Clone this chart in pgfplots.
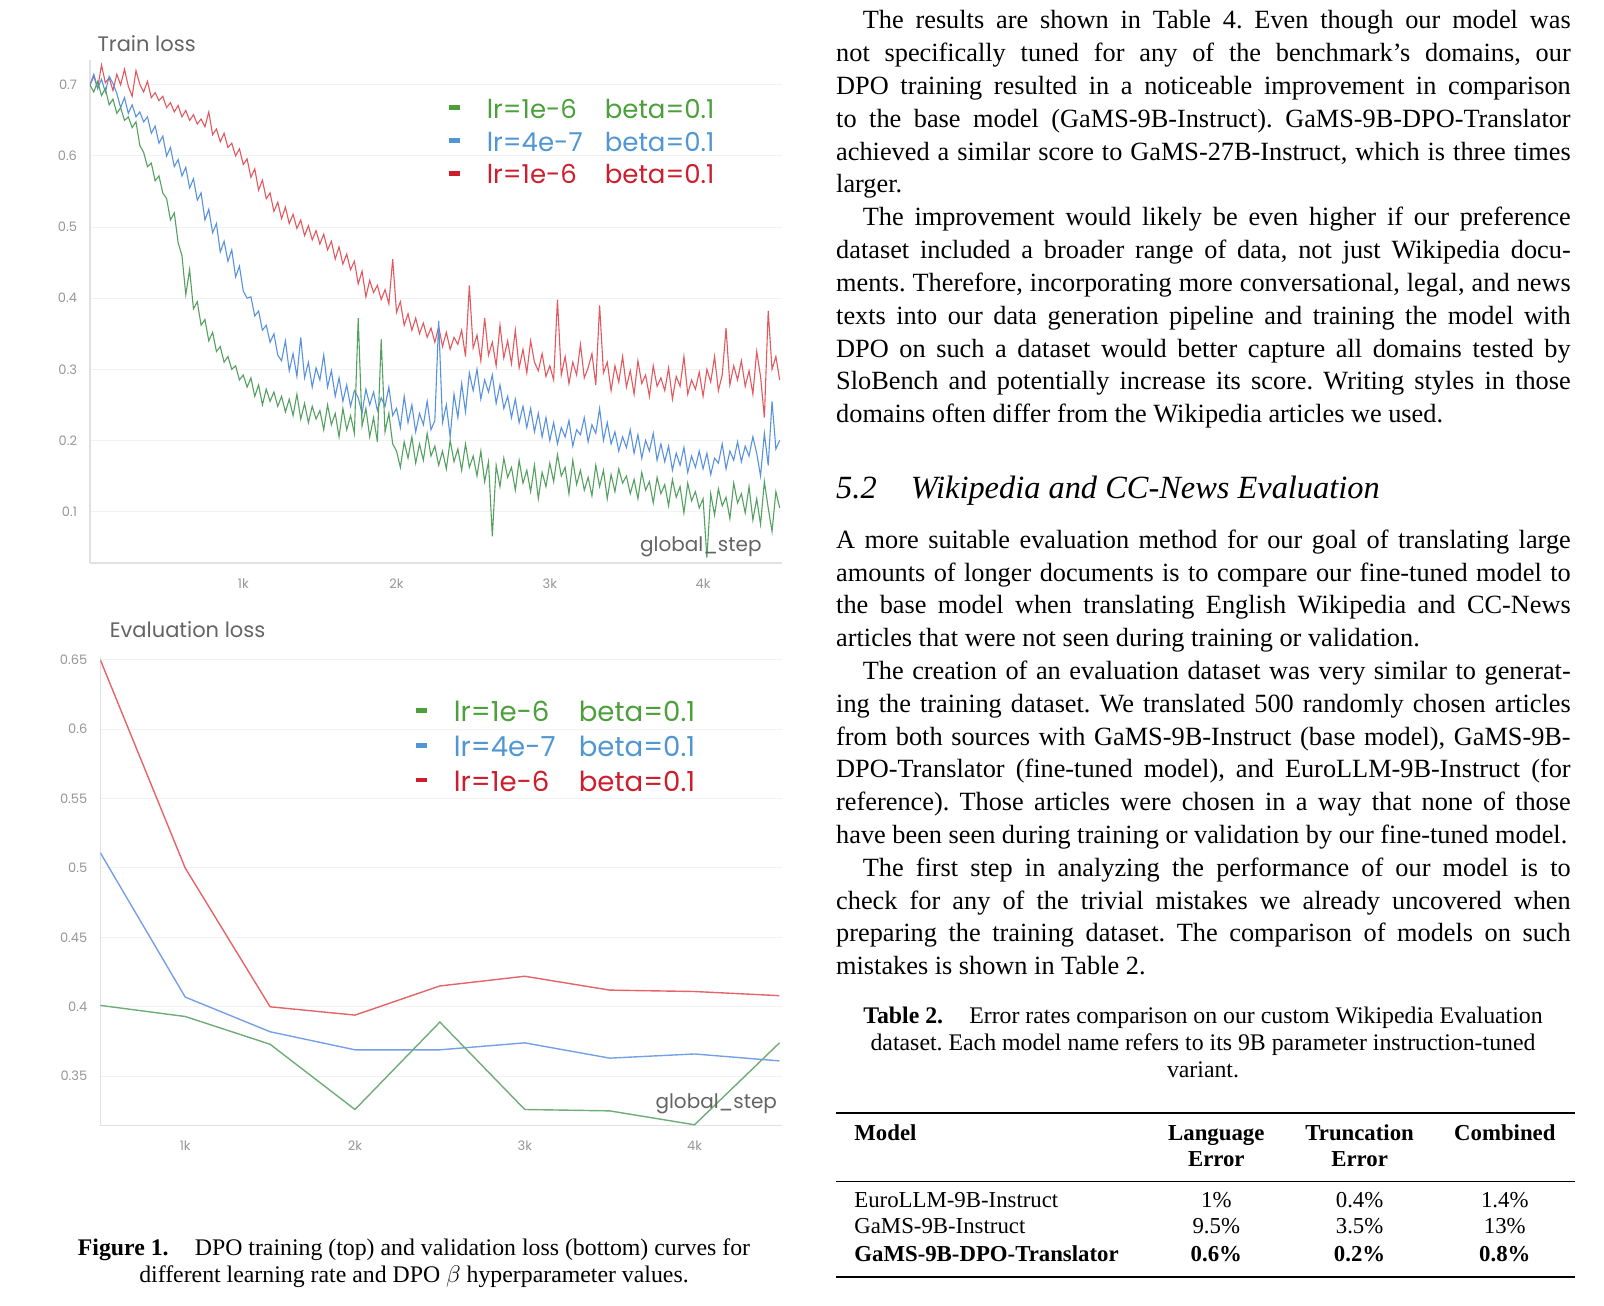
\documentclass[border=0pt]{standalone}
\usepackage{fontspec}
\setmainfont{Liberation Serif}
\newfontfamily\chartfont{Poppins}
\usepackage{pgfplots}
\usepackage{pgfplotstable}
\pgfplotsset{compat=1.18}
\frenchspacing

\definecolor{lred}{RGB}{226,88,94}
\definecolor{lblue}{RGB}{88,146,222}
\definecolor{lgreen}{RGB}{84,160,96}
\definecolor{ered}{RGB}{228,100,104}
\definecolor{eblue}{RGB}{118,160,230}
\definecolor{egreen}{RGB}{110,172,120}
\definecolor{tred}{RGB}{205,30,45}
\definecolor{tblue}{RGB}{80,150,210}
\definecolor{tgreen}{RGB}{76,160,60}
\definecolor{gridc}{RGB}{242,242,242}
\definecolor{axc}{RGB}{225,225,225}
\definecolor{tickc}{RGB}{150,150,150}
\definecolor{titlec}{RGB}{100,100,100}

\newcommand\body{\fontsize{13.15pt}{16.4pt}\selectfont}
\newcommand\capfont{\fontsize{11.9pt}{13.5pt}\selectfont}
\newcommand\tabfont{\fontsize{11.4pt}{13pt}\selectfont}
\newcommand\jl[3]{\node[anchor=base west,inner sep=0pt,font=\body] at (#1pt,#2pt) {\makebox[\dimexpr785.15pt-#1pt\relax][s]{#3}};}
\newcommand\nl[3]{\node[anchor=base west,inner sep=0pt,font=\body] at (#1pt,#2pt) {#3};}

\pgfplotstableread{
step red blue green
0 0.700 0.700 0.700
25 0.712 0.715 0.690
50 0.695 0.695 0.705
75 0.728 0.708 0.685
100 0.703 0.690 0.695
125 0.710 0.712 0.672
150 0.692 0.702 0.680
175 0.715 0.688 0.660
200 0.700 0.668 0.668
225 0.722 0.682 0.650
250 0.698 0.660 0.655
275 0.684 0.672 0.640
300 0.720 0.655 0.648
325 0.701 0.662 0.615
350 0.690 0.648 0.605
375 0.705 0.655 0.585
400 0.682 0.632 0.590
425 0.689 0.642 0.565
450 0.678 0.618 0.572
475 0.684 0.628 0.548
500 0.668 0.600 0.540
525 0.675 0.612 0.510
550 0.662 0.585 0.520
575 0.671 0.595 0.478
600 0.655 0.572 0.460
625 0.664 0.584 0.405
650 0.650 0.555 0.440
675 0.658 0.568 0.385
700 0.645 0.538 0.395
725 0.652 0.548 0.362
750 0.641 0.510 0.370
775 0.662 0.525 0.340
800 0.630 0.492 0.352
825 0.638 0.505 0.325
850 0.620 0.465 0.332
875 0.632 0.480 0.310
900 0.612 0.452 0.318
925 0.618 0.468 0.300
950 0.600 0.430 0.305
975 0.610 0.445 0.285
1000 0.588 0.410 0.292
1025 0.596 0.400 0.275
1050 0.570 0.402 0.288
1075 0.582 0.375 0.262
1100 0.552 0.382 0.278
1125 0.566 0.355 0.250
1150 0.540 0.362 0.272
1175 0.548 0.338 0.255
1200 0.522 0.350 0.268
1225 0.535 0.320 0.248
1250 0.512 0.312 0.262
1275 0.528 0.340 0.240
1300 0.505 0.298 0.258
1325 0.518 0.322 0.235
1350 0.498 0.290 0.265
1375 0.510 0.345 0.230
1400 0.488 0.288 0.252
1425 0.502 0.310 0.225
1450 0.482 0.275 0.248
1475 0.495 0.302 0.230
1500 0.476 0.285 0.242
1525 0.490 0.320 0.215
1550 0.468 0.275 0.250
1575 0.480 0.298 0.222
1600 0.455 0.262 0.238
1625 0.472 0.288 0.205
1650 0.448 0.255 0.245
1675 0.462 0.278 0.215
1700 0.440 0.248 0.235
1725 0.452 0.270 0.210
1750 0.420 0.260 0.372
1775 0.438 0.238 0.220
1800 0.402 0.272 0.245
1825 0.425 0.250 0.205
1850 0.408 0.268 0.232
1875 0.418 0.242 0.198
1900 0.398 0.260 0.342
1925 0.412 0.248 0.212
1950 0.392 0.275 0.238
1975 0.455 0.235 0.195
2000 0.380 0.245 0.185
2025 0.395 0.218 0.162
2050 0.362 0.262 0.198
2075 0.378 0.225 0.175
2100 0.355 0.250 0.205
2125 0.372 0.212 0.168
2150 0.350 0.238 0.195
2175 0.365 0.222 0.172
2200 0.345 0.255 0.210
2225 0.358 0.215 0.178
2250 0.338 0.228 0.192
2275 0.360 0.368 0.165
2300 0.332 0.225 0.185
2325 0.352 0.250 0.160
2350 0.328 0.205 0.200
2375 0.345 0.265 0.170
2400 0.335 0.232 0.188
2425 0.355 0.280 0.158
2450 0.318 0.240 0.195
2475 0.418 0.295 0.162
2500 0.330 0.270 0.178
2525 0.348 0.300 0.150
2550 0.312 0.258 0.185
2575 0.372 0.285 0.142
2600 0.320 0.268 0.170
2625 0.338 0.292 0.065
2650 0.305 0.252 0.165
2675 0.362 0.278 0.135
2700 0.316 0.245 0.175
2725 0.340 0.262 0.148
2750 0.308 0.232 0.162
2775 0.355 0.258 0.130
2800 0.302 0.225 0.172
2825 0.328 0.248 0.140
2850 0.295 0.218 0.158
2875 0.340 0.245 0.128
2900 0.310 0.212 0.165
2925 0.298 0.238 0.118
2950 0.322 0.205 0.155
2975 0.290 0.232 0.135
3000 0.305 0.200 0.168
3025 0.285 0.225 0.142
3050 0.398 0.195 0.180
3075 0.292 0.218 0.150
3100 0.318 0.205 0.162
3125 0.280 0.228 0.125
3150 0.310 0.192 0.172
3175 0.292 0.215 0.138
3200 0.335 0.208 0.158
3225 0.288 0.232 0.130
3250 0.302 0.198 0.148
3275 0.322 0.222 0.122
3300 0.278 0.210 0.165
3325 0.390 0.245 0.135
3350 0.295 0.200 0.158
3375 0.310 0.225 0.118
3400 0.270 0.195 0.152
3425 0.305 0.212 0.128
3450 0.282 0.185 0.160
3475 0.318 0.205 0.140
3500 0.275 0.190 0.150
3525 0.298 0.215 0.125
3550 0.265 0.182 0.145
3575 0.312 0.208 0.118
3600 0.280 0.175 0.155
3625 0.292 0.200 0.130
3650 0.262 0.185 0.142
3675 0.305 0.210 0.112
3700 0.276 0.172 0.148
3725 0.288 0.195 0.125
3750 0.270 0.170 0.138
3775 0.302 0.192 0.108
3800 0.258 0.158 0.145
3825 0.290 0.182 0.120
3850 0.276 0.165 0.135
3875 0.318 0.190 0.098
3900 0.265 0.155 0.140
3925 0.285 0.178 0.115
3950 0.272 0.162 0.128
3975 0.296 0.185 0.105
4000 0.262 0.160 0.118
4025 0.300 0.182 0.035
4050 0.282 0.152 0.125
4075 0.318 0.175 0.095
4100 0.270 0.168 0.132
4125 0.292 0.195 0.108
4150 0.358 0.160 0.120
4175 0.278 0.185 0.090
4200 0.305 0.172 0.140
4225 0.285 0.198 0.112
4250 0.312 0.170 0.125
4275 0.276 0.192 0.098
4300 0.298 0.178 0.135
4325 0.265 0.205 0.088
4350 0.325 0.182 0.118
4375 0.290 0.150 0.082
4400 0.232 0.210 0.142
4425 0.382 0.165 0.105
4450 0.300 0.255 0.072
4475 0.318 0.188 0.128
4500 0.285 0.200 0.105
}\trainloss

\pgfplotstableread{
step red blue green
500 0.650 0.511 0.401
1000 0.500 0.407 0.393
1500 0.400 0.382 0.373
2000 0.394 0.369 0.326
2500 0.415 0.369 0.389
3000 0.422 0.374 0.326
3500 0.412 0.363 0.325
4000 0.411 0.366 0.315
4500 0.408 0.361 0.374
}\evalloss

\pgfplotsset{
  wandb/.style={
    scale only axis,
    axis x line*=bottom, axis y line*=left,
    axis line style={draw=axc, line width=0.8pt, -},
    major tick length=0pt,
    ymajorgrids, grid style={draw=gridc, line width=0.5pt},
    xtick={1000,2000,3000,4000}, xticklabels={1k,2k,3k,4k},
    /pgf/number format/assume math mode=true,
    yticklabel style={font=\chartfont\fontsize{6.5pt}{7pt}\selectfont, text=tickc, inner sep=0pt, xshift=-6.3pt,
      /pgf/number format/fixed, /pgf/number format/precision=2},
    xticklabel style={font=\chartfont\fontsize{6.5pt}{7pt}\selectfont, text=tickc, inner sep=0pt, yshift=-7.7pt},
    legend cell align=left,
    legend image code/.code={\draw[line width=2.4pt] (0pt,1.8pt) -- (5.5pt,1.8pt); \path[draw=none] (0pt,1.8pt) -- (19pt,1.8pt);},
  }
}

\begin{document}
\begin{tikzpicture}
\path[use as bounding box] (0pt,0pt) rectangle (802pt,-652.5pt);

% ---------- Train loss ----------
\begin{axis}[wandb,
  at={(45pt,-281.35pt)}, anchor=south west,
  width=346pt, height=251.35pt,
  xmin=0, xmax=4515, ymin=0.028, ymax=0.735,
  ytick={0.1,0.2,0.3,0.4,0.5,0.6,0.7},
  legend style={at={(0.5145,0.9244)}, anchor=north west, draw=none, fill=none,
    inner sep=0pt, row sep=3.35pt,
    font=\chartfont\fontsize{13pt}{15pt}\selectfont,
    nodes={inner sep=0pt, text height=10pt, text depth=3pt}},
]
\addplot[lred, line width=0.55pt, forget plot] table[x=step, y=red] {\trainloss};
\addplot[lblue, line width=0.55pt, forget plot] table[x=step, y=blue] {\trainloss};
\addplot[lgreen, line width=0.55pt, forget plot] table[x=step, y=green] {\trainloss};
\addlegendimage{tgreen}
\addlegendentry{\textcolor{tgreen}{\makebox[59pt][l]{lr=1e-6}beta=0.1}}
\addlegendimage{tblue}
\addlegendentry{\textcolor{tblue}{\makebox[59pt][l]{lr=4e-7}beta=0.1}}
\addlegendimage{tred}
\addlegendentry{\textcolor{tred}{\makebox[59pt][l]{lr=1e-6}beta=0.1}}
\end{axis}
\node[anchor=west, inner sep=0pt, text=titlec, font=\chartfont\fontsize{10.5pt}{12pt}\selectfont] at (48.6pt,-22pt) {Train loss};
\node[anchor=east, inner sep=0pt, text=titlec, font=\chartfont\fontsize{10pt}{12pt}\selectfont] at (381pt,-273.6pt) {global\_step};

% ---------- Evaluation loss ----------
\begin{axis}[wandb,
  at={(50.15pt,-562.65pt)}, anchor=south west,
  width=340.85pt, height=234.15pt,
  xmin=500, xmax=4515, ymin=0.3146, ymax=0.652,
  ytick={0.35,0.4,0.45,0.5,0.55,0.6,0.65},
  legend style={at={(0.4587,0.908)}, anchor=north west, draw=none, fill=none,
    inner sep=0pt, row sep=3.8pt,
    font=\chartfont\fontsize{13.8pt}{16pt}\selectfont,
    nodes={inner sep=0pt, text height=10.6pt, text depth=3pt}},
]
\addplot[ered, line width=0.7pt, forget plot] table[x=step, y=red] {\evalloss};
\addplot[eblue, line width=0.7pt, forget plot] table[x=step, y=blue] {\evalloss};
\addplot[egreen, line width=0.7pt, forget plot] table[x=step, y=green] {\evalloss};
\addlegendimage{tgreen}
\addlegendentry{\textcolor{tgreen}{\makebox[62.5pt][l]{lr=1e-6}beta=0.1}}
\addlegendimage{tblue}
\addlegendentry{\textcolor{tblue}{\makebox[62.5pt][l]{lr=4e-7}beta=0.1}}
\addlegendimage{tred}
\addlegendentry{\textcolor{tred}{\makebox[62.5pt][l]{lr=1e-6}beta=0.1}}
\end{axis}
\node[anchor=west, inner sep=0pt, text=titlec, font=\chartfont\fontsize{10.5pt}{12pt}\selectfont] at (54.75pt,-314.6pt) {Evaluation loss};
\node[anchor=east, inner sep=0pt, text=titlec, font=\chartfont\fontsize{10pt}{12pt}\selectfont] at (388.7pt,-552pt) {global\_step};

% ---------- Figure caption ----------
\node[anchor=base, inner sep=0pt, font=\capfont] at (207pt,-627.5pt) {\textbf{Figure 1.}\hspace{1.1em}DPO training (top) and validation loss (bottom) curves for};
\node[anchor=base, inner sep=0pt, font=\capfont] at (207pt,-641pt) {different learning rate and DPO $\beta$ hyperparameter values.};

% ---------- Right column text ----------
\jl{431.2}{-14.5}{The results are shown in Table 4. Even though our model was}
\jl{417.9}{-30.9}{not specifically tuned for any of the benchmark's domains, our}
\jl{417.9}{-47.3}{DPO training resulted in a noticeable improvement in comparison}
\jl{417.9}{-63.7}{to the base model (GaMS-9B-Instruct). GaMS-9B-DPO-Translator}
\jl{417.9}{-80.1}{achieved a similar score to GaMS-27B-Instruct, which is three times}
\nl{417.9}{-96.5}{larger.}
\jl{431.2}{-112.9}{The improvement would likely be even higher if our preference}
\jl{417.9}{-129.3}{dataset included a broader range of data, not just Wikipedia docu-}
\jl{417.9}{-145.7}{ments. Therefore, incorporating more conversational, legal, and news}
\jl{417.9}{-162.1}{texts into our data generation pipeline and training the model with}
\jl{417.9}{-178.5}{DPO on such a dataset would better capture all domains tested by}
\jl{417.9}{-194.9}{SloBench and potentially increase its score. Writing styles in those}
\nl{417.9}{-211.3}{domains often differ from the Wikipedia articles we used.}

\node[anchor=base west, inner sep=0pt, font=\fontsize{16.2pt}{19pt}\selectfont\itshape] at (417.9pt,-249pt) {5.2};
\node[anchor=base west, inner sep=0pt, font=\fontsize{16.2pt}{19pt}\selectfont\itshape] at (455.25pt,-249pt) {Wikipedia and CC-News Evaluation};

\jl{417.9}{-274.1}{A more suitable evaluation method for our goal of translating large}
\jl{417.9}{-290.5}{amounts of longer documents is to compare our fine-tuned model to}
\jl{417.9}{-306.9}{the base model when translating English Wikipedia and CC-News}
\nl{417.9}{-323.3}{articles that were not seen during training or validation.}
\jl{431.2}{-339.7}{The creation of an evaluation dataset was very similar to generat-}
\jl{417.9}{-356.1}{ing the training dataset. We translated 500 randomly chosen articles}
\jl{417.9}{-372.5}{from both sources with GaMS-9B-Instruct (base model), GaMS-9B-}
\jl{417.9}{-388.9}{DPO-Translator (fine-tuned model), and EuroLLM-9B-Instruct (for}
\jl{417.9}{-405.3}{reference). Those articles were chosen in a way that none of those}
\nl{417.9}{-421.7}{have been seen during training or validation by our fine-tuned model.}
\jl{431.2}{-438.1}{The first step in analyzing the performance of our model is to}
\jl{417.9}{-454.5}{check for any of the trivial mistakes we already uncovered when}
\jl{417.9}{-470.9}{preparing the training dataset. The comparison of models on such}
\nl{417.9}{-487.3}{mistakes is shown in Table 2.}

% ---------- Table caption ----------
\node[anchor=base, inner sep=0pt, font=\capfont] at (601.5pt,-511.5pt) {\textbf{Table 2.}\hspace{1.1em}Error rates comparison on our custom Wikipedia Evaluation};
\node[anchor=base, inner sep=0pt, font=\capfont] at (601.5pt,-525.25pt) {dataset. Each model name refers to its 9B parameter instruction-tuned};
\node[anchor=base, inner sep=0pt, font=\capfont] at (601.5pt,-538.5pt) {variant.};

% ---------- Table ----------
\draw[line width=1.1pt] (418pt,-556.5pt) -- (787.7pt,-556.5pt);
\draw[line width=0.6pt] (418pt,-590.8pt) -- (787.7pt,-590.8pt);
\draw[line width=1.1pt] (418pt,-638.35pt) -- (787.7pt,-638.35pt);
\begin{scope}[every node/.style={inner sep=0pt, font=\tabfont}]
\node[anchor=base west] at (427pt,-570pt) {\textbf{Model}};
\node[anchor=base] at (608.15pt,-570pt) {\textbf{Language}};
\node[anchor=base] at (608.15pt,-583pt) {\textbf{Error}};
\node[anchor=base] at (679.8pt,-570pt) {\textbf{Truncation}};
\node[anchor=base] at (679.8pt,-583pt) {\textbf{Error}};
\node[anchor=base] at (752.4pt,-570pt) {\textbf{Combined}};
\node[anchor=base west] at (427pt,-603.5pt) {EuroLLM-9B-Instruct};
\node[anchor=base] at (608.15pt,-603.5pt) {1\%};
\node[anchor=base] at (679.8pt,-603.5pt) {0.4\%};
\node[anchor=base] at (752.4pt,-603.5pt) {1.4\%};
\node[anchor=base west] at (427pt,-616.75pt) {GaMS-9B-Instruct};
\node[anchor=base] at (608.15pt,-616.75pt) {9.5\%};
\node[anchor=base] at (679.8pt,-616.75pt) {3.5\%};
\node[anchor=base] at (752.4pt,-616.75pt) {13\%};
\node[anchor=base west] at (427pt,-630.5pt) {\textbf{GaMS-9B-DPO-Translator}};
\node[anchor=base] at (608.15pt,-630.5pt) {\textbf{0.6\%}};
\node[anchor=base] at (679.8pt,-630.5pt) {\textbf{0.2\%}};
\node[anchor=base] at (752.4pt,-630.5pt) {\textbf{0.8\%}};
\end{scope}
\end{tikzpicture}
\end{document}
